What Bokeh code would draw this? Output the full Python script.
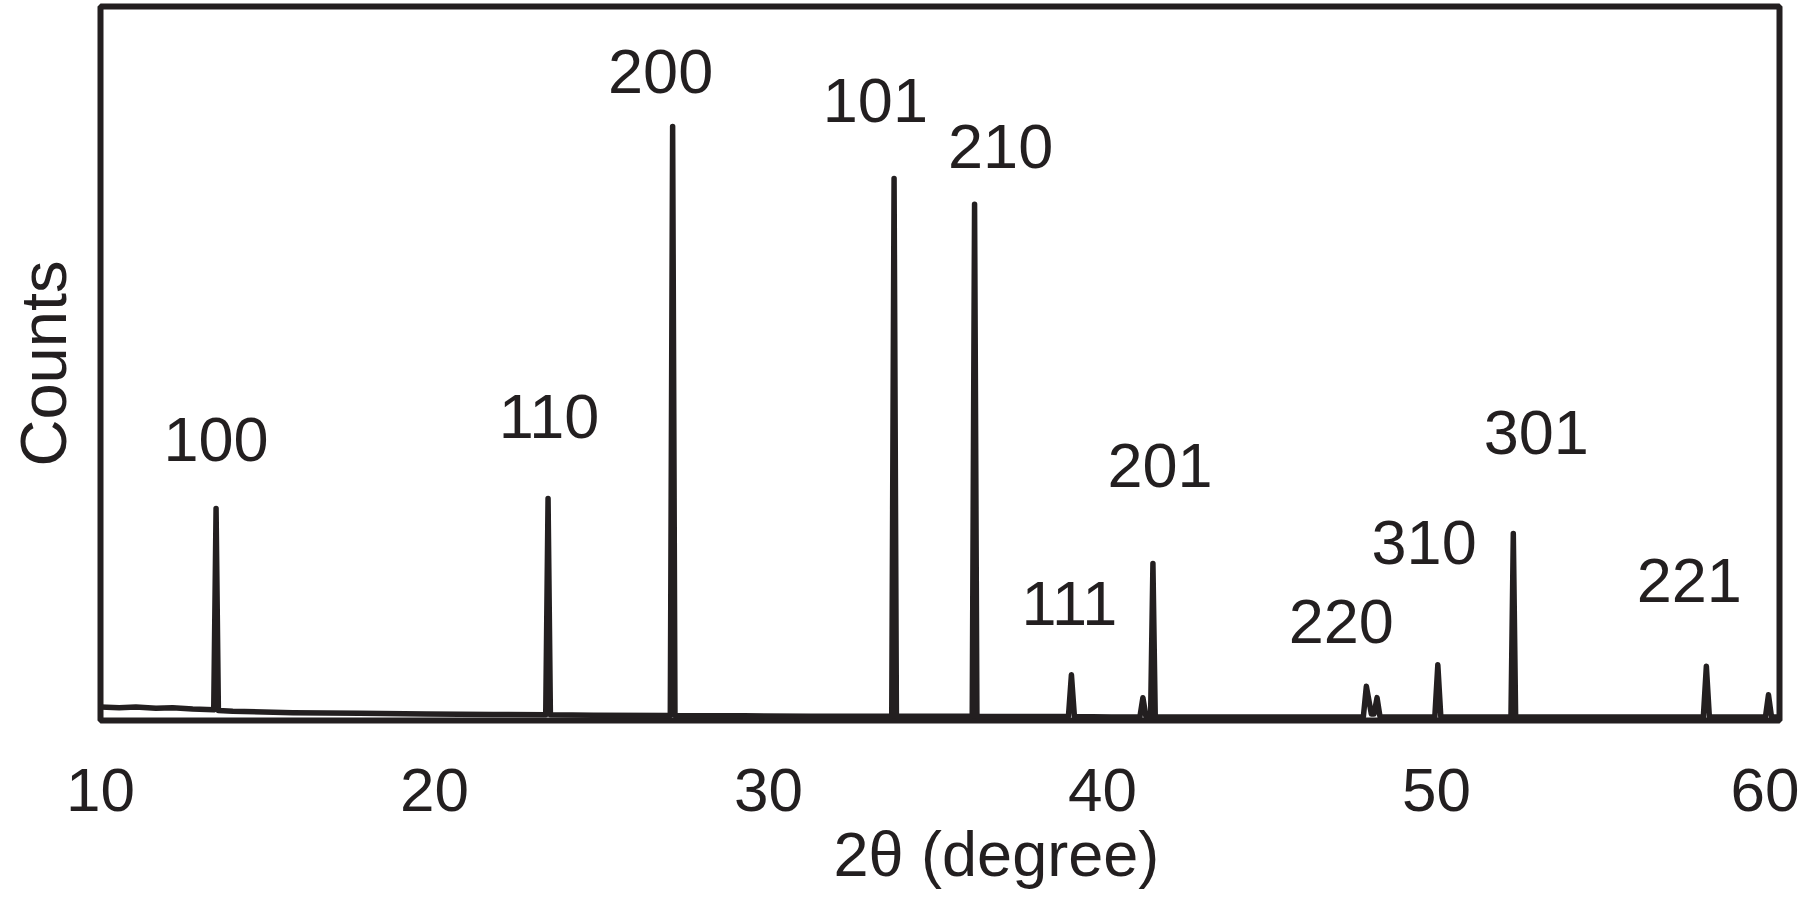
from bokeh.plotting import figure
from bokeh.models import FixedTicker, ColumnDataSource, Range1d, Title
from bokeh.core.properties import value
from bokeh.embed import file_html
from bokeh.resources import INLINE

# ---- data ----
two_theta = [10.0, 10.56, 11.06, 11.66, 12.16, 12.76, 13.39, 13.46, 13.53, 13.96,
             15.76, 17.76, 19.76, 21.76, 23.33, 23.40, 23.47, 24.76, 27.06, 27.13, 27.20,
             29.26, 31.26, 33.69, 33.76, 33.83, 34.96, 36.10, 36.17, 36.24, 37.76,
             38.98, 39.07, 39.16, 40.26, 41.12, 41.21, 41.30, 41.44, 41.51, 41.58,
             43.26, 45.76, 47.81, 47.90, 48.05, 48.13, 48.22, 48.31, 49.95, 50.04, 50.13,
             52.23, 52.30, 52.37, 55.26, 57.99, 58.08, 58.17, 59.85, 59.94, 60.03, 60.26]
counts = [1.9, 1.8, 1.9, 1.7, 1.8, 1.6, 1.5, 29.7, 1.4, 1.3,
          1.1, 1.0, 0.9, 0.85, 0.8, 31.1, 0.8, 0.75, 0.7, 83.2, 0.7,
          0.65, 0.6, 0.6, 75.9, 0.6, 0.6, 0.6, 72.3, 0.6, 0.55,
          0.55, 6.4, 0.55, 0.5, 0.5, 3.2, 0.6, 0.6, 22.0, 0.5,
          0.5, 0.5, 0.5, 4.8, 0.9, 0.9, 3.2, 0.5, 0.5, 7.8, 0.5,
          0.5, 26.2, 0.5, 0.5, 0.5, 7.6, 0.5, 0.5, 3.6, 0.5, 0.5]

peak_labels = ["100", "110", "200", "101", "210", "111", "201", "220", "310", "301", "221"]
label_theta = [13.46, 23.43, 26.77, 33.20, 36.95, 39.01, 41.72, 47.15, 49.63, 52.99, 57.57]
label_counts = [39.3, 42.6, 90.9, 86.9, 80.4, 16.4, 35.7, 13.9, 24.9, 40.4, 19.6]

x_ticks = [10, 20, 30, 40, 50, 60]
x_title = "2θ (degree)"
y_title = "Counts"

INK = "#231f20"
FONT = "Liberation Sans"

p = figure(width=1799, height=917,
           x_range=Range1d(10, 60.27), y_range=Range1d(0, 100),
           output_backend="svg", toolbar_location=None,
           min_border_left=100, min_border_top=6, min_border_right=20,
           min_border_bottom=197)

p.background_fill_color = "white"
p.border_fill_color = "white"
p.outline_line_color = INK
p.outline_line_width = 6
p.xgrid.visible = False
p.ygrid.visible = False

p.line(two_theta, counts, line_color=INK, line_width=5.5, line_join="round", line_cap="round")

src = ColumnDataSource(dict(x=label_theta, y=label_counts, t=peak_labels))
p.text(x="x", y="y", text="t", source=src, text_font=value(FONT),
       text_font_size="63px", text_color=INK, text_align="center",
       text_baseline="middle")

xa = p.xaxis[0]
xa.ticker = FixedTicker(ticks=x_ticks)
xa.axis_line_color = None
xa.major_tick_line_color = None
xa.minor_tick_line_color = None
xa.major_label_text_font = FONT
xa.major_label_text_font_size = "62px"
xa.major_label_text_color = INK
xa.major_label_standoff = 42

ya = p.yaxis[0]
ya.ticker = FixedTicker(ticks=[])
ya.axis_line_color = None
ya.major_tick_line_color = None
ya.minor_tick_line_color = None
ya.major_label_text_font_size = "0px"
ya.axis_label = y_title
ya.axis_label_text_font = FONT
ya.axis_label_text_font_size = "65px"
ya.axis_label_text_font_style = "normal"
ya.axis_label_text_color = INK
ya.axis_label_standoff = 21

p.add_layout(Title(text=x_title, align="left", offset=733, standoff=7,
                   text_font=FONT, text_font_size="63px",
                   text_font_style="normal", text_color=INK), "below")

open("out.html", "w").write(file_html(p, INLINE))
